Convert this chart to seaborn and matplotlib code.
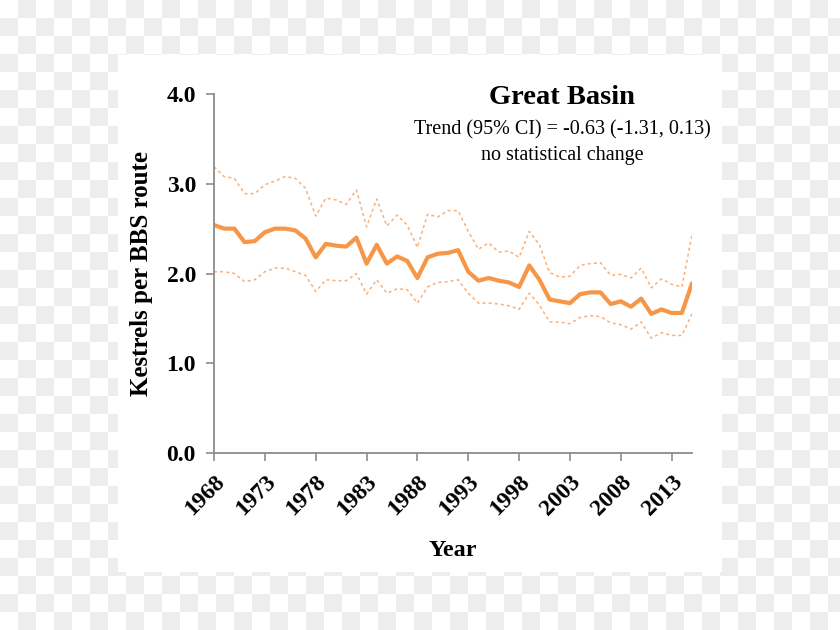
import numpy as np
import pandas as pd
import matplotlib
matplotlib.use("Agg")
import matplotlib.pyplot as plt
import seaborn as sns

# Datos
years = list(range(1968, 2016))
kestrels = [2.54, 2.50, 2.50, 2.35, 2.36, 2.46, 2.50, 2.50, 2.48, 2.39,
            2.18, 2.33, 2.31, 2.30, 2.40, 2.11, 2.32, 2.11, 2.19, 2.14,
            1.95, 2.18, 2.22, 2.23, 2.26, 2.02, 1.92, 1.95, 1.92, 1.90,
            1.85, 2.09, 1.93, 1.71, 1.69, 1.67, 1.77, 1.79, 1.79, 1.66,
            1.69, 1.63, 1.72, 1.55, 1.60, 1.56, 1.56, 1.89]
upper_ci = [3.19, 3.08, 3.06, 2.89, 2.89, 2.99, 3.03, 3.08, 3.06, 2.95,
            2.64, 2.84, 2.82, 2.77, 2.93, 2.52, 2.83, 2.53, 2.65, 2.54,
            2.29, 2.66, 2.63, 2.70, 2.70, 2.47, 2.27, 2.34, 2.24, 2.25,
            2.18, 2.47, 2.32, 2.01, 1.96, 1.97, 2.09, 2.11, 2.12, 1.98,
            1.99, 1.95, 2.06, 1.84, 1.94, 1.88, 1.85, 2.43]
lower_ci = [2.02, 2.02, 2.00, 1.91, 1.93, 2.02, 2.06, 2.06, 2.02, 1.98,
            1.80, 1.93, 1.92, 1.92, 2.00, 1.77, 1.93, 1.78, 1.83, 1.82,
            1.67, 1.85, 1.90, 1.91, 1.93, 1.78, 1.67, 1.67, 1.66, 1.64,
            1.60, 1.78, 1.65, 1.46, 1.46, 1.44, 1.51, 1.53, 1.52, 1.45,
            1.43, 1.38, 1.46, 1.28, 1.34, 1.31, 1.31, 1.55]
year_ticks = list(range(1968, 2014, 5))
y_ticks = [0.0, 1.0, 2.0, 3.0, 4.0]

df = pd.DataFrame({'Year': years, 'Kestrels': kestrels,
                   'Upper': upper_ci, 'Lower': lower_ci})

sns.set_style('white')
plt.rcParams['font.family'] = ['Liberation Serif', 'DejaVu Serif']
plt.rcParams['text.color'] = 'black'

fig = plt.figure(figsize=(8.4, 6.3), dpi=100)

# Fondo de cuadricula (tipo imagen transparente)
h, w = 630, 840
yy, xx = np.indices((h, w))
checker = ((xx // 18 + yy // 18) % 2).astype(float)
bg = np.where(checker[..., None] == 1, 0.93, 1.0) * np.ones((h, w, 3))
fig.figimage(bg, 0, 0, zorder=0)

# Panel blanco
panel = plt.Rectangle((118 / 840, 1 - 572 / 630), (722 - 118) / 840, (572 - 55) / 630,
                      transform=fig.transFigure, facecolor='white', edgecolor='none', zorder=1)
fig.patches.append(panel)

ax = fig.add_axes([214 / 840, 1 - 453 / 630, (692 - 214) / 840, (453 - 94) / 630])
ax.set_zorder(2)
ax.patch.set_alpha(0)

orange = '#F79646'
light = '#F9B07A'
sns.lineplot(data=df, x='Year', y='Upper', ax=ax, color=light, lw=1.1,
             dashes=False, linestyle=(0, (2, 2)))
sns.lineplot(data=df, x='Year', y='Lower', ax=ax, color=light, lw=1.1,
             dashes=False, linestyle=(0, (2, 2)))
sns.lineplot(data=df, x='Year', y='Kestrels', ax=ax, color=orange, lw=3)

ax.set_xlim(1968, 2015)
ax.set_ylim(0, 4)
ax.set_xticks(year_ticks)
ax.set_xticklabels([str(y) for y in year_ticks], rotation=45, ha='right',
                   rotation_mode='anchor', fontsize=17, fontweight='bold', color='black')
ax.set_yticks(y_ticks)
ax.set_yticklabels([f'{v:.1f}' for v in y_ticks], fontsize=17, fontweight='bold', color='black')

for side in ['top', 'right']:
    ax.spines[side].set_visible(False)
for side in ['left', 'bottom']:
    ax.spines[side].set_color('#8c8c8c')
    ax.spines[side].set_linewidth(1.3)
ax.tick_params(axis='both', direction='out', length=6, width=1.2, color='#8c8c8c',
               bottom=True, left=True, pad=7)

ax.set_xlabel('Year', fontsize=17.5, fontweight='bold', labelpad=15, color='black')
ax.set_ylabel('Kestrels per BBS route', fontsize=18, fontweight='bold', labelpad=10, color='black')

ax.text(0.728, 0.99, 'Great Basin', transform=ax.transAxes, ha='center', va='center',
        fontsize=20.5, fontweight='bold')
ax.text(0.728, 0.90, 'Trend (95% CI) = -0.63 (-1.31, 0.13)', transform=ax.transAxes,
        ha='center', va='center', fontsize=14.5)
ax.text(0.728, 0.828, 'no statistical change', transform=ax.transAxes,
        ha='center', va='center', fontsize=14.5)

fig.savefig('out.png', dpi=100)
